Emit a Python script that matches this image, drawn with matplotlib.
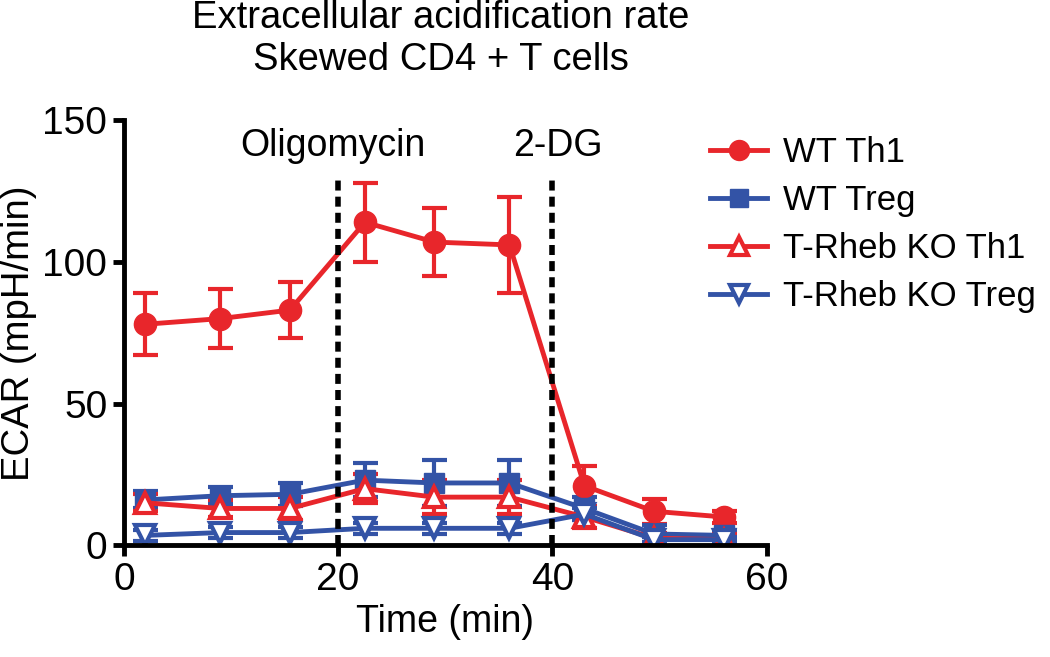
import numpy as np
import matplotlib.pyplot as plt

# time points (min)
time = [2, 9, 15.5, 22.5, 29, 36, 43, 49.5, 56]

# ECAR means and SEM
wt_th1 = [78, 80, 83, 114, 107, 106, 21, 12, 10]
wt_th1_err = [11, 10.5, 10, 14, 12, 17, 7, 4.5, 2]

wt_treg = [16, 17.5, 18, 23, 22, 22, 13, 4, 3.5]
wt_treg_err = [3, 3, 4, 6, 8, 8, 4, 3, 2]

ko_th1 = [15, 13, 13, 20, 17, 17, 10, 2.5, 2]
ko_th1_err = [3, 3, 4, 5, 6, 6, 4, 2, 2]

ko_treg = [3.5, 4.5, 4.5, 6, 6, 6, 11, 2, 2]
ko_treg_err = [2, 2, 2, 2, 2, 2, 2, 1, 1]

labels = ['WT Th1', 'WT Treg', 'T-Rheb KO Th1', 'T-Rheb KO Treg']
red = '#e8262b'
blue = '#3353a6'

plt.rcParams['font.family'] = ['Liberation Sans', 'DejaVu Sans']

fig = plt.figure(figsize=(10.5, 6.57), dpi=100)
ax = fig.add_axes([0.118, 0.170, 0.612, 0.647])

common = dict(lw=3.5, elinewidth=3, capsize=9, capthick=3)
c1 = ax.errorbar(time, wt_th1, yerr=wt_th1_err, color=red, marker='o', ms=16, **common)
c2 = ax.errorbar(time, wt_treg, yerr=wt_treg_err, color=blue, marker='s', ms=15, **common)
c3 = ax.errorbar(time, ko_th1, yerr=ko_th1_err, color=red, marker='^', ms=15,
                 mfc='white', mew=3, **common)
c4 = ax.errorbar(time, ko_treg, yerr=ko_treg_err, color=blue, marker='v', ms=15,
                 mfc='white', mew=3, **common)

# injection markers
ax.plot([20, 20], [0, 130], color='black', lw=4, ls=(0, (1.8, 1.1)), zorder=5)
ax.plot([40, 40], [0, 130], color='black', lw=4, ls=(0, (1.8, 1.1)), zorder=5)
ax.text(19.5, 141, 'Oligomycin', ha='center', va='center', fontsize=27)
ax.text(40.5, 141, '2-DG', ha='center', va='center', fontsize=27)

ax.set_xlim(0, 60)
ax.set_ylim(0, 150)
ax.set_xticks([0, 20, 40, 60])
ax.set_yticks([0, 50, 100, 150])
for side in ['top', 'right']:
    ax.spines[side].set_visible(False)
for side in ['left', 'bottom']:
    ax.spines[side].set_linewidth(3.5)
ax.tick_params(width=3.5, length=8, labelsize=28, pad=4)

ax.set_xlabel('Time (min)', fontsize=27, labelpad=4)
ax.set_ylabel('ECAR (mpH/min)', fontsize=27.5, labelpad=4)

fig.text(0.42, 0.972, 'Extracellular acidification rate', ha='center', va='center',
         fontsize=27.5)
fig.text(0.42, 0.908, 'Skewed CD4 + T cells', ha='center', va='center',
         fontsize=27.5)

handles = [c1[0], c2[0], c3[0], c4[0]]
leg = fig.legend(handles, labels, loc='upper left', bbox_to_anchor=(0.663, 0.814),
                 frameon=False, fontsize=25, handlelength=1.65, handletextpad=0.46,
                 labelspacing=0.435, borderaxespad=0, markerscale=0.9)

fig.savefig('out.png', dpi=100)
